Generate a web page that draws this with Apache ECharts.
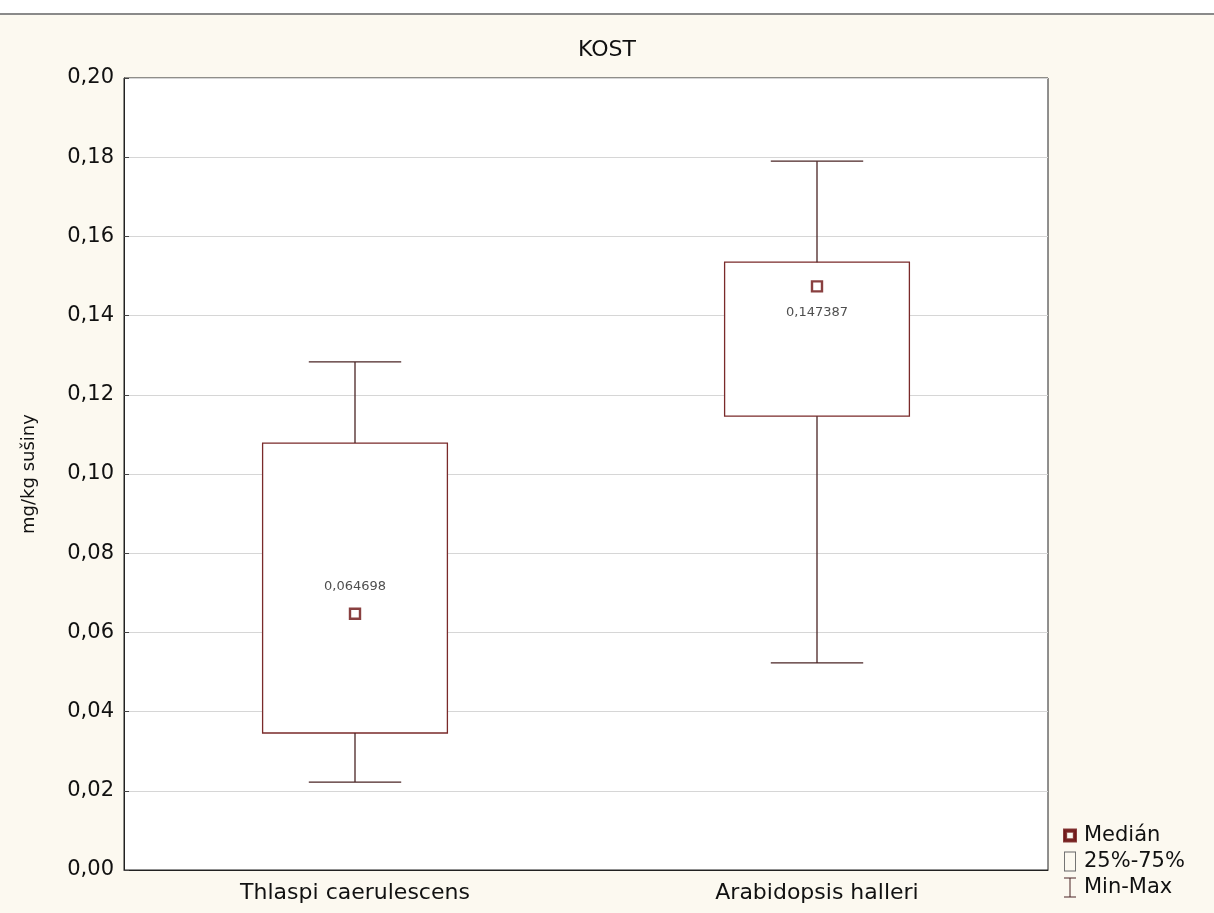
<!DOCTYPE html>
<html><head><meta charset="utf-8">
<script src="https://cdn.jsdelivr.net/npm/echarts@6/dist/echarts.min.js"></script>
<style>
html,body{margin:0;padding:0;background:#fff;}
#wrap{position:relative;width:1214px;height:913px;background:#fff;}
#topband{position:absolute;left:0;top:0;width:1214px;height:13px;background:#fff;border-bottom:2px solid #8a8a8a;z-index:2;}
#chart{position:absolute;left:0;top:0;width:1214px;height:913px;background:#fcf9f0;}
</style></head>
<body><div id="wrap"><div id="chart"></div><div id="topband"></div></div>
<script>
var categories = ['Thlaspi caerulescens', 'Arabidopsis halleri'];
var minVals = [0.0222, 0.0523];
var q1Vals = [0.0346, 0.1146];
var medianVals = [0.064698, 0.147387];
var q3Vals = [0.1078, 0.1535];
var maxVals = [0.1283, 0.1790];
var medianLabelPos = ['top', 'bottom'];
var yTicks = [0, 0.02, 0.04, 0.06, 0.08, 0.10, 0.12, 0.14, 0.16, 0.18, 0.20];

var boxColor = '#7a2a2a';
var whiskerColor = '#4a2424';
var medColor = '#6b1010';
var boxData = categories.map(function(c, i){ return [i, minVals[i], q1Vals[i], q3Vals[i], maxVals[i]]; });
var medData = categories.map(function(c, i){
  return { value: [i, medianVals[i]], label: { position: medianLabelPos[i] } };
});

var chart = echarts.init(document.getElementById('chart'));
var font = 'DejaVu Sans, Liberation Sans, sans-serif';
chart.setOption({
  backgroundColor: '#fcf9f0',
  animation: false,
  title: { text: 'KOST', left: 'center', top: 34, textStyle: { fontFamily: font, fontSize: 22, fontWeight: 'normal', color: '#111' } },
  grid: { left: 124, right: 166, top: 78, bottom: 43, show: true, backgroundColor: '#fff', borderColor: '#222', borderWidth: 1 },
  legend: {
    orient: 'vertical', left: 1058, top: 820, itemGap: 5, itemWidth: 12, itemHeight: 21,
    textStyle: { fontFamily: font, fontSize: 21, color: '#111', padding: [0,0,0,3] },
    data: [
      { name: 'Medián', icon: 'path://M0,0 L10,0 L10,10 L0,10 Z M1.8,1.8 L1.8,8.2 L8.2,8.2 L8.2,1.8 Z', itemStyle: { color: medColor } },
      { name: '25%-75%', icon: 'path://M0,0 L12,0 L12,20 L0,20 Z M0.9,0.9 L0.9,19.1 L11.1,19.1 L11.1,0.9 Z', itemStyle: { color: '#666' } },
      { name: 'Min-Max', icon: 'path://M0,0 L12,0 L12,1 L6.5,1 L6.5,19 L12,19 L12,20 L0,20 L0,19 L5.5,19 L5.5,1 L0,1 Z', itemStyle: { color: whiskerColor } }
    ]
  },
  xAxis: {
    type: 'category', data: categories,
    axisLine: { lineStyle: { color: '#222' } },
    axisTick: { inside: true, alignWithLabel: true, length: 5, lineStyle: { color: '#444' } },
    axisLabel: { fontFamily: font, fontSize: 22, color: '#111', margin: 12 },
    splitLine: { show: false }
  },
  yAxis: {
    type: 'value', min: 0, max: 0.2, interval: 0.02,
    name: 'mg/kg sušiny', nameLocation: 'middle', nameGap: 86,
    nameTextStyle: { fontFamily: font, fontSize: 18, color: '#111' },
    axisLine: { show: true, lineStyle: { color: '#222' } },
    axisTick: { show: true, inside: true, length: 5, lineStyle: { color: '#444' } },
    axisLabel: { fontFamily: font, fontSize: 21, color: '#111', margin: 10,
      formatter: function(v){ return v.toFixed(2).replace('.', ','); } },
    splitLine: { show: true, lineStyle: { color: '#d6d6d6', width: 1 } }
  },
  series: [
    {
      name: '25%-75%', type: 'custom', data: boxData, z: 2,
      renderItem: function(params, api){
        var x = api.value(0);
        var band = api.size([1, 0])[0];
        var bw = band * 0.4, cw = band * 0.1;
        var pMin = api.coord([x, api.value(1)]);
        var pQ1 = api.coord([x, api.value(2)]);
        var pQ3 = api.coord([x, api.value(3)]);
        var pMax = api.coord([x, api.value(4)]);
        var st = { stroke: whiskerColor, lineWidth: 1.3, fill: null };
        return { type: 'group', children: [
          { type: 'rect', shape: { x: pQ3[0] - bw/2, y: pQ3[1], width: bw, height: pQ1[1] - pQ3[1] }, style: { stroke: boxColor, lineWidth: 1.3, fill: '#fff' } },
          { type: 'line', shape: { x1: pMax[0], y1: pMax[1], x2: pQ3[0], y2: pQ3[1] }, style: st },
          { type: 'line', shape: { x1: pQ1[0], y1: pQ1[1], x2: pMin[0], y2: pMin[1] }, style: st },
          { type: 'line', shape: { x1: pMax[0] - cw, y1: pMax[1], x2: pMax[0] + cw, y2: pMax[1] }, style: st },
          { type: 'line', shape: { x1: pMin[0] - cw, y1: pMin[1], x2: pMin[0] + cw, y2: pMin[1] }, style: st }
        ]};
      }
    },
    { name: 'Min-Max', type: 'custom', data: [], renderItem: function(){ return null; } },
    {
      name: 'Medián', type: 'scatter', data: medData, z: 5,
      symbol: 'rect', symbolSize: 10,
      itemStyle: { color: '#fff', borderColor: medColor, borderWidth: 2.4 },
      label: { show: true, distance: 14, fontFamily: font, fontSize: 13, color: '#222',
        formatter: function(p){ return String(p.value[1]).replace('.', ','); } }
    }
  ]
});
</script></body></html>
